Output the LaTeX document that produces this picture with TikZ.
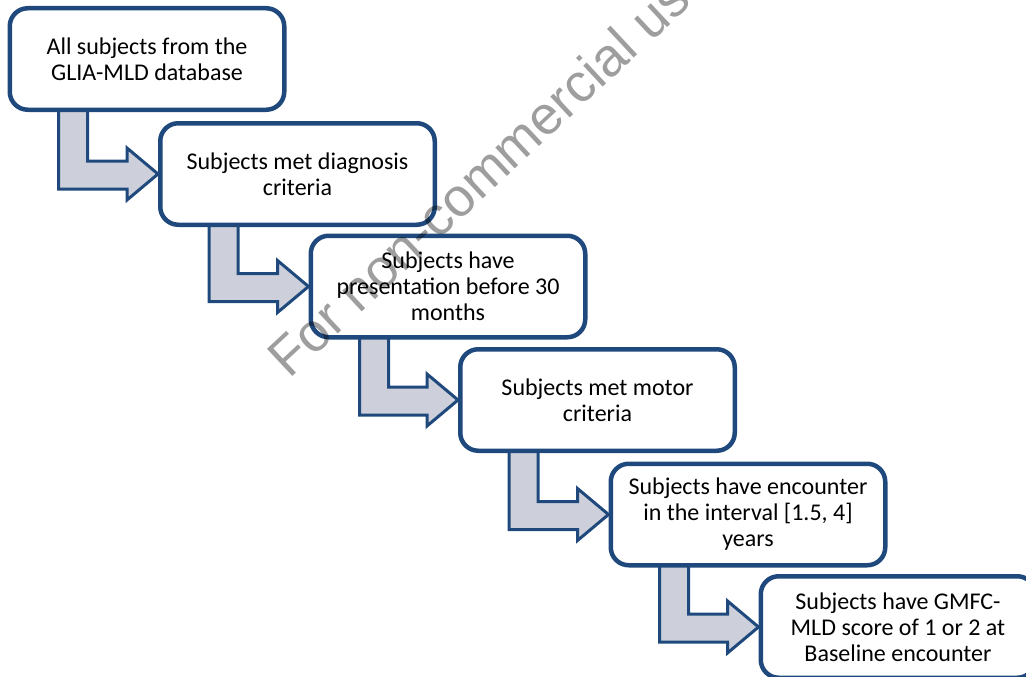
\documentclass[tikz,border=0pt]{standalone}
\usepackage{fontspec}
\setmainfont{Carlito}
\newfontfamily\wmfont{Liberation Sans}
\usetikzlibrary{calc}
\definecolor{boxblue}{RGB}{31,73,125}
\definecolor{arrowgray}{RGB}{205,208,218}
\tikzset{
  stepbox/.style={draw=boxblue, line width=4.5pt, fill=white, rounded corners=18pt,
    minimum width=274.5pt, minimum height=101.5pt, inner sep=0pt, align=center,
    font=\fontsize{24}{26}\selectfont},
  bentarrow/.style={draw=boxblue, fill=arrowgray, line width=3pt, line join=miter},
}
\begin{document}
\begin{tikzpicture}[x=1pt,y=-1pt]
\useasboundingbox (0,0) rectangle (1026,677);
\clip (0,0) rectangle (1026,677);
\coordinate (c1) at (147,59);
\coordinate (c2) at (297.5,174);
\coordinate (c3) at (448,286.5);
\coordinate (c4) at (597.5,400);
\coordinate (c5) at (748,514.5);
\coordinate (c6) at (898,627);
% box outlines positioned first (drawn later on top of arrows)
\path node[stepbox, draw=none, fill=none] (b1) at (c1) {\phantom{x}};
\path node[stepbox, draw=none, fill=none] (b2) at (c2) {\phantom{x}};
\path node[stepbox, draw=none, fill=none] (b3) at (c3) {\phantom{x}};
\path node[stepbox, draw=none, fill=none] (b4) at (c4) {\phantom{x}};
\path node[stepbox, draw=none, fill=none] (b5) at (c5) {\phantom{x}};
\path node[stepbox, draw=none, fill=none] (b6) at (c6) {\phantom{x}};
% bent arrows
\foreach \a/\b in {b1/b2,b2/b3,b3/b4,b4/b5,b5/b6}{
  \path let \p1=(\a.south west), \p2=(\b.west) in
    [bentarrow] (\x1+51pt,\y1+4pt) -- (\x1+51pt,\y2-15pt) -- (\x2-31pt,\y2-15pt)
    -- (\x2-31pt,\y2-26pt) -- (\x2,\y2) -- (\x2-31pt,\y2+26pt) -- (\x2-31pt,\y2+13pt)
    -- (\x1+80pt,\y2+13pt) -- (\x1+80pt,\y1+4pt) -- cycle;
}
% boxes
\node[stepbox] (n1) at (c1) {All subjects from the\\GLIA-MLD database};
\node[stepbox] (n2) at (c2) {Subjects met diagnosis\\criteria};
\node[stepbox] (n3) at (c3) {Subjects have\\presentation before 30\\months};
\node[stepbox] (n4) at (c4) {Subjects met motor\\criteria};
\node[stepbox] (n5) at (c5) {Subjects have encounter\\in the interval [1.5, 4]\\years};
\node[stepbox] (n6) at (c6) {Subjects have GMFC-\\MLD score of 1 or 2 at\\Baseline encounter};
% watermark
\node[anchor=base west, rotate=43, inner sep=0pt, text=black, text opacity=0.38,
  font=\wmfont\fontsize{54}{54}\selectfont] (wm) at (289,380) {For non-commercial use};
\end{tikzpicture}
\end{document}
